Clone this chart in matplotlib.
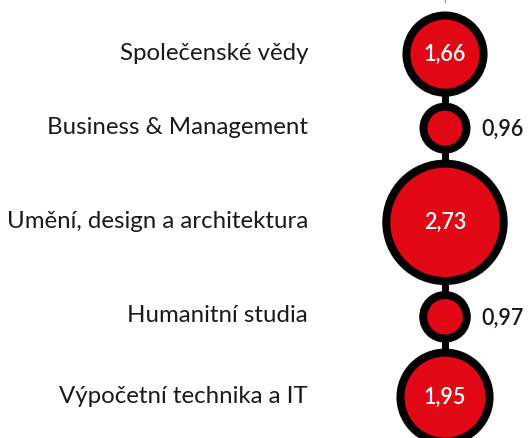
import numpy as np
import matplotlib.pyplot as plt
from matplotlib.patches import Circle

# === Data ===
categories = [
    "Společenské vědy",
    "Business & Management",
    "Umění, design a architektura",
    "Humanitní studia",
    "Výpočetní technika a IT",
]
values = [1.66, 0.96, 2.73, 0.97, 1.95]
value_labels = ["1,66", "0,96", "2,73", "0,97", "1,95"]

RED = "#e20714"
INK = "#1a1a1a"

plt.rcParams["font.family"] = ["Lato", "DejaVu Sans"]

# axes in pixel units of the 528x438 canvas
fig = plt.figure(figsize=(5.28, 4.38), dpi=100)
ax = fig.add_axes([0, 0, 1, 1])
ax.set_xlim(0, 528)
ax.set_ylim(438, 0)
ax.axis("off")

cx = 445           # column centre
r_range = (21.5, 58.7)  # radius range (px) for the sqrt scale
edge = 8           # edge width, px
gap = 6            # space between neighbouring circles, px
top = 11.5         # outer top of the first circle


def radius(v):
    # sqrt scale from the value domain onto the radius range
    lo, hi = np.sqrt(min(values)), np.sqrt(max(values))
    t = (np.sqrt(v) - lo) / (hi - lo)
    return r_range[0] + t * (r_range[1] - r_range[0])


# stack the circles down the column
centers = []
y = top
for v in values:
    r_out = radius(v) + edge / 2
    centers.append(y + r_out)
    y += 2 * r_out + gap

# connecting stem behind the circles
ax.plot([cx, cx], [centers[0], 438], color="black", lw=7 * 0.72, zorder=1,
        solid_capstyle="butt")
ax.plot([cx, cx], [0, 1.5], color="#999999", lw=1, zorder=1)

for cat, v, lab, cy in zip(categories, values, value_labels, centers):
    r = radius(v)
    ax.add_patch(Circle((cx, cy), r, facecolor=RED, edgecolor="black",
                        lw=edge * 0.72, zorder=2))
    ax.text(308, cy - 1, cat, ha="right", va="center", fontsize=17.3,
            color=INK, zorder=3)
    if v > 1.2:
        ax.text(cx, cy, lab, ha="center", va="center", fontsize=15.5,
                fontweight="semibold", color="white", zorder=3)
    else:
        ax.text(cx + r + edge / 2 + 11, cy + 1, lab, ha="left", va="center",
                fontsize=15.5, fontweight="semibold", color=INK, zorder=3)

fig.savefig("out.png", dpi=100)
